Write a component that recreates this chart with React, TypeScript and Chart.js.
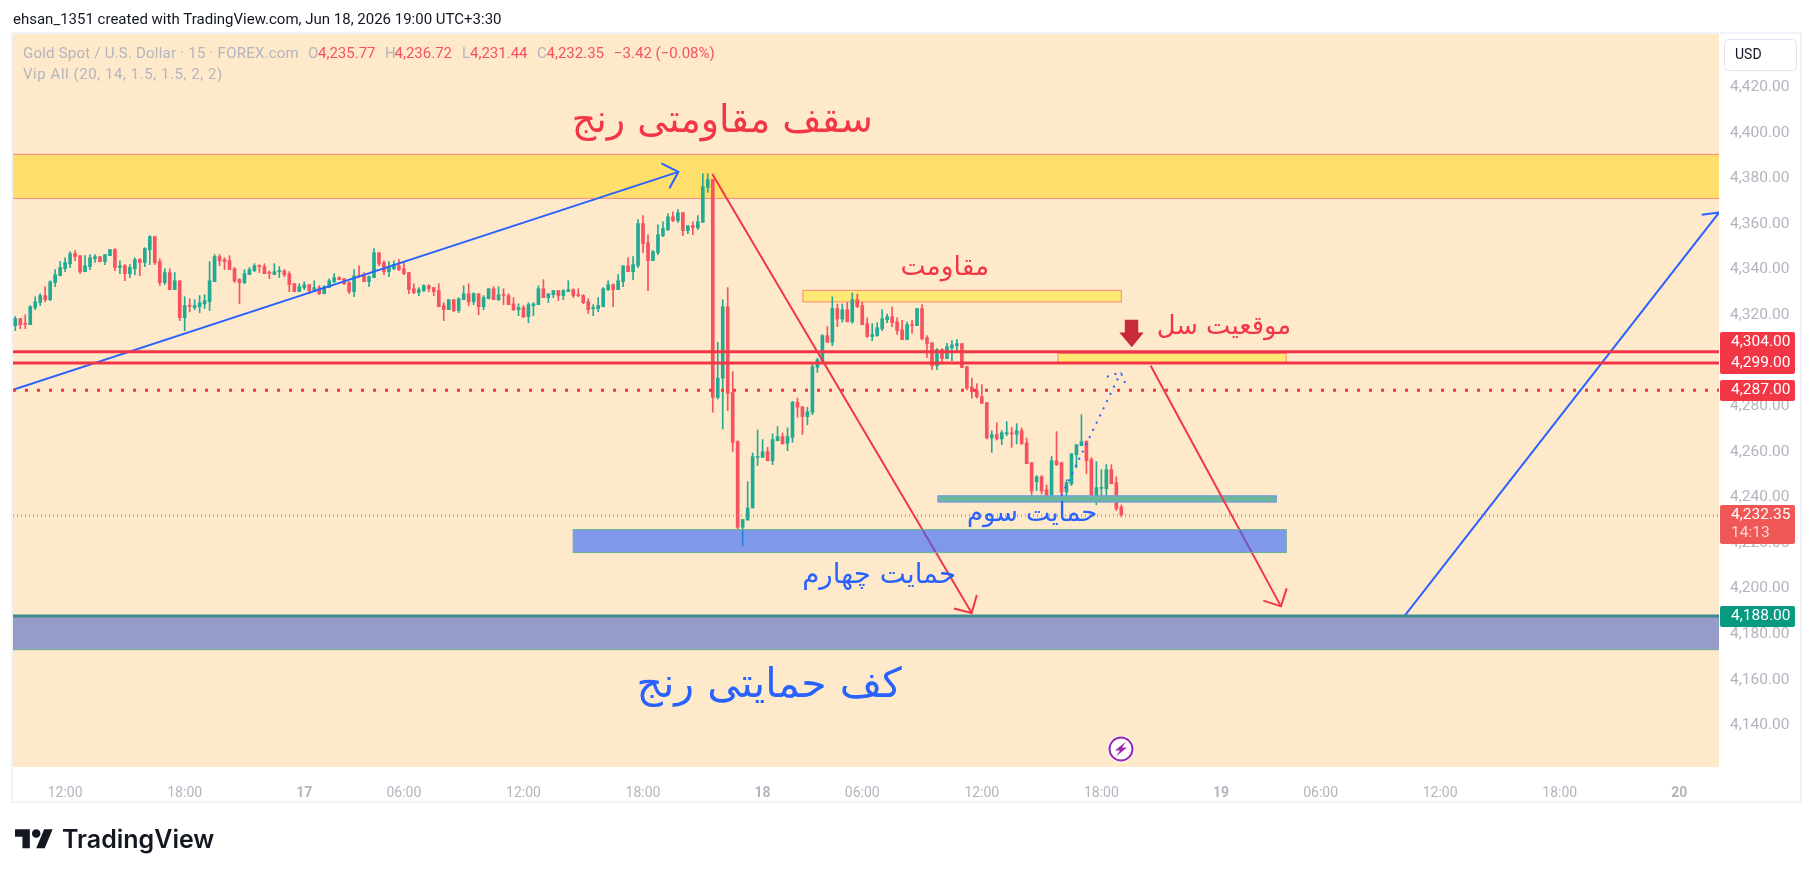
import React, { useEffect, useRef } from "react";
import { Chart, registerables } from "chart.js";

Chart.register(...registerables);

const opens = [
  4315.4,4318.5,4316.3,4315.8,4323.3,4325.5,4328.6,4326.8,4334.3,4337.3,
  4340.4,4342.6,4347.0,4346.1,4339.1,4341.3,4344.8,4345.7,4343.5,4346.1,
  4348.8,4340.9,4341.7,4338.2,4340.4,4344.4,4343.1,4348.8,4354.5,4343.5,
  4334.3,4338.7,4331.2,4335.1,4318.9,4324.2,4323.3,4323.7,4325.0,4325.9,
  4334.7,4345.7,4344.4,4343.9,4340.4,4335.6,4334.3,4337.8,4339.5,4341.7,
  4341.3,4338.7,4337.8,4339.1,4339.5,4338.2,4333.8,4330.3,4332.1,4333.4,
  4330.3,4332.1,4329.4,4332.1,4334.7,4336.5,4336.0,4334.3,4330.3,4337.3,
  4337.8,4334.7,4336.5,4347.4,4343.1,4339.1,4340.4,4341.7,4340.4,4338.7,
  4331.6,4329.9,4330.8,4332.9,4332.1,4330.8,4324.2,4322.4,4326.8,4322.0,
  4326.8,4329.4,4325.9,4329.4,4323.7,4327.2,4331.6,4326.8,4329.0,4328.6,
  4325.0,4322.4,4323.3,4319.3,4324.2,4324.6,4331.6,4327.7,4329.0,4330.8,
  4328.6,4330.3,4331.2,4329.0,4328.6,4325.9,4322.9,4322.9,4323.7,4331.2,
  4333.4,4331.2,4334.7,4341.7,4339.1,4341.7,4360.2,4351.8,4343.9,4347.4,
  4354.9,4357.5,4363.2,4361.5,4365.0,4357.1,4359.3,4358.4,4360.7,4376.1,
  4379.5,4283.9,4292.4,4323.7,4286.1,4264.5,4226.9,4230.1,4235.4,4257.6,
  4257.6,4260.1,4256.1,4264.9,4266.7,4263.8,4266.4,4281.8,4279.8,4275.5,
  4277.4,4297.1,4300.0,4311.0,4308.1,4322.9,4318.3,4322.4,4317.1,4326.8,
  4324.2,4316.3,4310.6,4311.0,4314.1,4318.0,4319.3,4317.1,4313.6,4309.3,
  4315.8,4315.4,4322.9,4310.1,4307.9,4297.8,4304.9,4300.9,4305.7,4306.6,
  4307.5,4297.4,4288.5,4286.9,4284.2,4281.6,4266.2,4267.6,4265.7,4268.0,
  4268.3,4267.7,4269.3,4264.0,4255.3,4246.9,4249.1,4243.4,4240.1,4256.1,
  4255.3,4242.4,4246.0,4258.8,4262.7,4264.5,4256.6,4240.8,4244.0,4243.8,
  4252.2,4246.5,4235.77,
];
const highs = [
  4319.4,4318.5,4320.2,4324.2,4328.1,4329.4,4332.5,4335.1,4340.0,4343.5,
  4345.2,4347.9,4348.3,4346.1,4346.1,4346.6,4346.6,4345.7,4346.6,4348.8,
  4349.2,4343.9,4342.2,4342.2,4345.2,4344.8,4349.6,4354.9,4354.5,4344.8,
  4340.4,4340.4,4338.7,4335.1,4328.1,4327.2,4326.8,4328.6,4329.0,4343.5,
  4346.6,4346.6,4345.2,4346.1,4340.9,4336.0,4340.0,4340.9,4342.6,4342.2,
  4342.6,4339.5,4342.6,4341.3,4340.0,4339.1,4333.8,4333.8,4334.7,4333.4,
  4335.1,4333.0,4333.0,4336.0,4338.2,4336.9,4336.0,4334.7,4340.0,4341.7,
  4338.7,4337.3,4349.2,4347.4,4343.9,4343.5,4343.9,4344.4,4343.5,4338.7,
  4333.8,4332.1,4333.4,4333.4,4332.1,4333.8,4325.5,4326.8,4326.8,4327.7,
  4332.9,4333.8,4329.9,4329.4,4328.6,4331.6,4332.5,4332.5,4331.6,4329.4,
  4327.7,4325.0,4324.2,4325.5,4325.5,4332.9,4335.6,4329.4,4330.8,4330.8,
  4331.2,4335.1,4331.6,4331.6,4329.0,4327.2,4324.6,4327.7,4332.1,4335.1,
  4333.8,4337.8,4341.7,4345.2,4345.7,4361.9,4363.7,4355.3,4348.3,4359.7,
  4361.0,4364.6,4365.4,4366.3,4365.0,4359.3,4361.0,4363.7,4382.1,4382.1,
  4379.5,4308.1,4326.8,4332.1,4295.2,4264.9,4230.3,4246.9,4259.5,4269.6,
  4265.4,4262.0,4267.9,4271.1,4268.3,4270.5,4282.2,4283.6,4279.8,4279.6,
  4298.6,4301.1,4311.5,4315.0,4328.1,4324.9,4324.9,4325.6,4329.7,4329.3,
  4325.6,4318.8,4316.3,4316.7,4322.4,4320.5,4323.7,4318.8,4317.7,4317.0,
  4317.7,4322.9,4324.6,4311.0,4307.9,4305.3,4305.3,4307.6,4308.8,4309.3,
  4307.5,4297.4,4292.4,4289.9,4289.5,4281.6,4269.3,4272.8,4269.3,4273.3,
  4270.8,4272.4,4270.5,4266.1,4255.3,4249.6,4249.6,4245.5,4258.0,4268.9,
  4255.3,4247.8,4259.2,4263.2,4276.3,4264.9,4257.5,4255.7,4252.2,4254.4,
  4254.4,4249.1,4236.72,
];
const lows = [
  4313.2,4314.1,4314.1,4315.8,4322.4,4324.2,4325.9,4326.4,4332.5,4337.3,
  4339.1,4340.9,4343.9,4338.2,4339.1,4340.0,4343.1,4343.5,4342.2,4346.1,
  4339.5,4338.2,4335.1,4336.5,4337.8,4337.3,4341.3,4342.2,4342.2,4333.0,
  4333.4,4331.2,4331.2,4317.6,4313.2,4321.5,4322.4,4321.1,4322.9,4322.0,
  4334.7,4341.7,4340.0,4340.0,4334.3,4325.0,4333.8,4337.8,4339.1,4338.7,
  4338.2,4336.0,4337.8,4336.5,4336.9,4330.3,4330.3,4330.3,4331.2,4329.4,
  4330.3,4329.0,4329.4,4332.1,4334.3,4335.6,4333.4,4329.4,4328.1,4336.6,
  4334.7,4332.5,4336.5,4341.7,4337.8,4336.9,4340.0,4339.5,4337.8,4329.4,
  4329.4,4328.6,4330.3,4330.3,4328.6,4323.7,4317.6,4322.4,4321.5,4321.1,
  4326.8,4324.2,4324.6,4320.2,4322.4,4327.2,4326.8,4326.4,4324.6,4324.6,
  4322.0,4319.8,4318.9,4316.7,4319.8,4324.6,4327.7,4325.5,4327.7,4326.4,
  4326.8,4330.3,4327.7,4328.1,4325.0,4320.7,4319.8,4321.5,4323.7,4330.8,
  4323.7,4331.2,4332.5,4339.1,4335.6,4340.9,4347.4,4330.8,4343.9,4346.6,
  4354.5,4357.1,4361.0,4360.6,4354.9,4355.8,4355.3,4357.5,4360.7,4373.9,
  4277.4,4283.2,4270.0,4278.1,4260.2,4226.2,4218.8,4230.1,4235.4,4254.0,
  4257.6,4256.1,4254.4,4264.9,4263.5,4260.5,4264.2,4275.2,4267.6,4271.9,
  4276.3,4294.9,4299.7,4308.1,4306.6,4315.0,4316.9,4317.1,4316.4,4323.4,
  4315.8,4310.3,4308.8,4310.7,4313.2,4316.7,4315.0,4311.5,4309.3,4309.3,
  4312.0,4315.4,4309.3,4301.5,4296.1,4296.1,4298.6,4300.9,4300.0,4303.7,
  4297.0,4287.2,4283.6,4283.6,4281.3,4265.7,4259.8,4265.2,4263.2,4267.1,
  4262.0,4263.5,4263.2,4254.8,4240.1,4243.0,4241.5,4239.8,4240.1,4254.0,
  4240.5,4240.8,4245.2,4252.9,4262.7,4250.4,4238.6,4236.8,4239.8,4239.8,
  4246.0,4234.2,4231.44,
];
const closes = [
  4318.5,4315.8,4316.0,4323.7,4325.9,4328.6,4326.8,4334.7,4337.8,4340.9,
  4343.1,4347.0,4345.7,4339.1,4341.7,4345.2,4345.7,4343.5,4346.6,4348.8,
  4340.9,4341.7,4338.2,4340.9,4344.4,4343.1,4349.2,4354.5,4343.1,4334.3,
  4338.7,4331.2,4335.1,4318.9,4324.2,4323.9,4324.2,4325.5,4326.4,4335.1,
  4345.7,4343.9,4343.5,4340.0,4335.1,4334.3,4338.2,4340.0,4341.7,4341.3,
  4338.2,4338.4,4339.1,4339.5,4337.8,4333.4,4330.3,4332.5,4333.4,4330.8,
  4332.1,4329.4,4332.5,4335.1,4336.5,4335.6,4333.8,4330.3,4337.3,4336.9,
  4334.7,4336.9,4347.4,4342.5,4339.1,4341.3,4342.2,4340.0,4338.2,4331.2,
  4329.9,4331.2,4332.9,4331.6,4330.3,4323.7,4322.4,4326.8,4322.0,4327.2,
  4329.4,4325.9,4329.4,4323.7,4327.7,4331.6,4326.8,4329.0,4328.7,4324.6,
  4322.4,4323.3,4319.3,4324.6,4325.0,4331.6,4327.7,4329.4,4330.8,4328.6,
  4330.8,4331.2,4328.6,4328.6,4325.5,4322.4,4323.3,4324.2,4331.6,4333.4,
  4331.2,4335.1,4341.7,4339.1,4342.2,4360.2,4351.4,4343.9,4347.9,4355.3,
  4358.0,4363.2,4361.5,4365.0,4357.1,4359.3,4358.4,4361.0,4376.4,4379.5,
  4283.9,4292.4,4323.7,4285.7,4264.2,4226.9,4230.3,4235.4,4257.9,4258.0,
  4260.1,4256.1,4265.4,4266.7,4263.5,4266.7,4281.8,4279.6,4275.5,4277.6,
  4297.4,4300.5,4311.0,4308.1,4322.9,4318.3,4322.4,4317.1,4326.8,4323.7,
  4315.8,4310.6,4311.5,4314.5,4318.5,4319.3,4316.7,4313.2,4309.3,4315.8,
  4315.5,4322.9,4309.6,4307.5,4297.8,4304.9,4300.9,4306.2,4306.9,4307.5,
  4297.0,4288.0,4286.4,4284.2,4281.3,4266.1,4267.6,4265.8,4268.4,4268.3,
  4267.9,4269.3,4263.6,4254.8,4242.8,4249.1,4242.8,4240.1,4256.1,4254.4,
  4242.2,4246.5,4259.2,4263.2,4264.5,4256.1,4239.3,4244.3,4244.3,4252.2,
  4246.0,4235.1,4232.35,
];

const xTickValues = [10,34,58,78,102,126,150,170,194,218,242,262,286,310,334];
const xTickLabels = ["12:00","18:00","17","06:00","12:00","18:00","18","06:00","12:00","18:00","19","06:00","12:00","18:00","20"];
const dayLabels = ["17","18","19","20"];
const yTickValues = [4140,4160,4180,4200,4220,4240,4260,4280,4300,4320,4340,4360,4380,4400,4420];

const xMin = -0.46;
const xMax = 341.97;
const yMin = 4121.7;
const yMax = 4443.4;

const levelResistanceA = 4304;
const levelResistanceB = 4299;
const levelDotted = 4287;
const lastPrice = 4232.35;
const levelFloor = 4188;

const blueUpLeg = [{x:xMin,y:4287.2},{x:133.1,y:4382.9}];
const blueUpHead = [{x:129.7,y:4386.6},{x:133.1,y:4382.9},{x:131.3,y:4375.7}];
const redDownA = [{x:139.9,y:4382.0},{x:191.97,y:4189.3}];
const redDownAHead = [{x:188.4,y:4191.3},{x:191.97,y:4189.3},{x:193.0,y:4197.2}];
const redDownB = [{x:227.9,y:4297.8},{x:254.05,y:4192.2}];
const redDownBHead = [{x:250.5,y:4194.7},{x:254.05,y:4192.2},{x:255.2,y:4200.1}];
const blueRise = [{x:278.9,y:4188.1},{x:342,y:4365.1}];
const blueRiseHead = [{x:338.5,y:4364.1},{x:342,y:4365.1}];
const projection = [{x:210.0,y:4240.8},{x:221.9,y:4294.9}];
const projectionHead = [{x:219.1,y:4293.0},{x:221.9,y:4294.9},{x:223.1,y:4288.3}];
const sellMarker = [
  {x:222.7,y:4318},{x:225.4,y:4318},{x:225.4,y:4312.4},{x:226.5,y:4312.4},
  {x:224.1,y:4305.9},{x:221.6,y:4312.4},{x:222.7,y:4312.4},
];

const zoneTop = { x1:xMin-1, x2:xMax+1, top:4390.8, bottom:4371.0 };
const zoneFloor = { x1:xMin-1, x2:xMax+1, top:4188, bottom:4173.0 };
const zoneResist = { x1:158.0, x2:222.1, top:4331.1, bottom:4325.6 };
const zoneSell = { x1:209.2, x2:255.2, top:4303.4, bottom:4298.9 };
const zoneSupport4 = { x1:111.9, x2:255.2, top:4226.1, bottom:4215.6 };
const zoneSupport3 = { x1:185.1, x2:253.2, top:4240.9, bottom:4237.8 };

const notes = [
  { text:"سقف مقاومتی رنج", x:141.9, y:4404.9, size:38, color:"#f23645" },
  { text:"کف حمایتی رنج", x:151.3, y:4157.3, size:41, color:"#2962ff" },
  { text:"مقاومت", x:186.6, y:4340.8, size:26.5, color:"#f23645" },
  { text:"موقعیت سل", x:242.6, y:4314.5, size:25.8, color:"#f23645" },
  { text:"حمایت سوم", x:204.1, y:4232.4, size:25.8, color:"#2962ff" },
  { text:"حمایت چهارم", x:173.4, y:4205.6, size:27.7, color:"#2962ff" },
];

const bull = "#22ab94";
const bear = "#f7525f";
const UI = "Roboto, sans-serif";
const AR = "'DejaVu Sans', sans-serif";

const line = (data: any[], color: string, width: number, dash: number[] = [], order = 3) => ({
  type: "line" as const, data, borderColor: color, borderWidth: width, borderDash: dash,
  pointRadius: 0, tension: 0, fill: false, order, borderCapStyle: "butt" as const,
});

function drawZone(chart: any, z: any, fill: string, stroke: string) {
  const { x, y } = chart.scales; const ctx = chart.ctx;
  const l = x.getPixelForValue(z.x1), r = x.getPixelForValue(z.x2);
  const t = y.getPixelForValue(z.top), b = y.getPixelForValue(z.bottom);
  ctx.save();
  ctx.beginPath(); ctx.rect(chart.chartArea.left, chart.chartArea.top, chart.chartArea.width, chart.chartArea.height); ctx.clip();
  ctx.fillStyle = fill; ctx.fillRect(l, t, r - l, b - t);
  ctx.strokeStyle = stroke; ctx.lineWidth = 1; ctx.strokeRect(l + .5, t + .5, r - l - 1, b - t - 1);
  ctx.restore();
}

const overlay = {
  id: "overlay",
  beforeDraw(chart: any) {
    const ctx = chart.ctx; const a = chart.chartArea;
    ctx.save();
    ctx.fillStyle = "#ffffff"; ctx.fillRect(0, 0, chart.width, chart.height);
    ctx.fillStyle = "#ffe9cb"; ctx.fillRect(a.left, a.top, a.width, a.height);
    ctx.strokeStyle = "#f0f3fa"; ctx.lineWidth = 2;
    ctx.strokeRect(12, 33, 1789, 769);
    ctx.restore();
  },
  beforeDatasetsDraw(chart: any) {
    drawZone(chart, zoneTop, "#ffdf6b", "#f98a80");
    drawZone(chart, zoneResist, "#ffe873", "#f98a80");
    drawZone(chart, zoneSell, "#ffe873", "#f98a80");
    drawZone(chart, zoneFloor, "#969cca", "#7fb48f");
  },
  afterDatasetDraw(chart: any, args: any) {
    if (args.index === 1) drawZone(chart, zoneSupport3, "#6ab89c", "#7a96ec");
  },
  afterDatasetsDraw(chart: any) {
    const ctx = chart.ctx; const { x, y } = chart.scales;
    drawZone(chart, zoneSupport4, "rgba(41,98,255,0.6)", "#6fb98c");

    ctx.save();
    ctx.fillStyle = "#c92a3a"; ctx.beginPath();
    sellMarker.forEach((p, i) => {
      const px = x.getPixelForValue(p.x), py = y.getPixelForValue(p.y);
      i ? ctx.lineTo(px, py) : ctx.moveTo(px, py);
    });
    ctx.closePath(); ctx.fill();

    ctx.textAlign = "center"; ctx.textBaseline = "middle"; ctx.direction = "rtl";
    notes.forEach(n => {
      ctx.font = `${n.size}px ${AR}`; ctx.fillStyle = n.color;
      ctx.fillText(n.text, x.getPixelForValue(n.x), y.getPixelForValue(n.y));
    });
    ctx.direction = "ltr";

    ctx.beginPath(); ctx.arc(1121, 749, 13.5, 0, 7); ctx.fillStyle = "#fff"; ctx.fill();
    ctx.beginPath(); ctx.arc(1121, 749, 11.5, 0, 7); ctx.strokeStyle = "#9c27b0"; ctx.lineWidth = 2; ctx.stroke();
    ctx.fillStyle = "#9c27b0"; ctx.beginPath();
    ctx.moveTo(1126, 741.5); ctx.lineTo(1115, 750.5); ctx.lineTo(1120, 750.5); ctx.lineTo(1116, 756.5);
    ctx.lineTo(1127, 747.5); ctx.lineTo(1122, 747.5); ctx.closePath(); ctx.fill();

    const tag = (top: number, bottom: number, color: string) => {
      ctx.fillStyle = color; ctx.beginPath(); ctx.roundRect(1720, top, 75, bottom - top, 2); ctx.fill();
    };
    const tagText = (s: string, py: number, color = "#fff") => {
      ctx.font = `15.5px ${UI}`; ctx.fillStyle = color; ctx.textAlign = "left"; ctx.textBaseline = "middle";
      ctx.fillText(s, 1731, py);
    };
    tag(332, 374, "#f23645");
    tagText("4,304.00", 342); tagText("4,299.00", 363);
    tag(380, 401, "#f23645"); tagText("4,287.00", 390.5);
    tag(505, 544, "#f05858"); tagText("4,232.35", 515); tagText("14:13", 533, "rgba(255,255,255,.75)");
    tag(606, 627, "#089981"); tagText("4,188.00", 616.5);

    ctx.fillStyle = "#fff"; ctx.strokeStyle = "#e0e3eb"; ctx.lineWidth = 1;
    ctx.beginPath(); ctx.roundRect(1724.5, 39.5, 72, 31, 4); ctx.fill(); ctx.stroke();
    ctx.fillStyle = "#131722"; ctx.font = `14px ${UI}`; ctx.fillText("USD", 1735, 55);

    ctx.fillStyle = "#131722"; ctx.font = `15px ${UI}`;
    ctx.fillText("ehsan_1351 created with TradingView.com, Jun 18, 2026 19:00 UTC+3:30", 13, 20);

    const gray = "#b2b5be", red = "#f7525f";
    const row: [string, number, string, string][] = [
      ["Gold Spot / U.S. Dollar · 15 · FOREX.com", 23, gray, "0.22px"],
      ["O", 308, gray, "0px"], ["4,235.77", 318, red, "0px"],
      ["H", 385, gray, "0px"], ["4,236.72", 394.5, red, "0px"],
      ["L", 462, gray, "0px"], ["4,231.44", 470, red, "0px"],
      ["C", 537, gray, "0px"], ["4,232.35", 546.5, red, "0px"],
      ["−3.42 (−0.08%)", 614, red, "0px"],
    ];
    ctx.font = `15px ${UI}`;
    row.forEach(([s, px, c, sp]) => { (ctx as any).letterSpacing = sp; ctx.fillStyle = c; ctx.fillText(s, px, 54); });
    (ctx as any).letterSpacing = "0.55px";
    ctx.fillStyle = gray; ctx.fillText("Vip All (20, 14, 1.5, 1.5, 2, 2)", 23, 75);
    (ctx as any).letterSpacing = "0px";

    ctx.fillStyle = "#131722";
    ctx.translate(15, 825); ctx.scale(1.06, 1.06);
    ctx.fill(new Path2D("M14 22H7V11H0V4h14v18zM28 22h-8l7.5-18h8L28 22z"));
    ctx.beginPath(); ctx.arc(20, 8, 4, 0, 7); ctx.fill();
    ctx.setTransform(1, 0, 0, 1, 0, 0);
    ctx.font = `600 25px Inter, ${UI}`; ctx.fillText("TradingView", 62, 840);
    ctx.restore();
  },
};

export default function App() {
  const ref = useRef<HTMLCanvasElement>(null);
  useEffect(() => {
    document.body.style.margin = "0";
    const idx = opens.map((_, i) => i);
    const chart = new Chart(ref.current!, {
      type: "bar",
      data: {
        datasets: [
          {
            data: idx.map(i => ({ x: i, y: [lows[i], highs[i]] })) as any,
            backgroundColor: idx.map(i => closes[i] >= opens[i] ? bull : bear),
            barThickness: 1, grouped: false, order: 10,
          },
          {
            data: idx.map(i => ({ x: i, y: [opens[i], closes[i]] })) as any,
            backgroundColor: idx.map(i => closes[i] >= opens[i] ? bull : bear),
            barThickness: 3, grouped: false, order: 9, minBarLength: 1,
          },
          line([{x:xMin,y:levelFloor},{x:xMax,y:levelFloor}], "#3f8a8f", 3),
          line([{x:xMin,y:levelResistanceA},{x:xMax,y:levelResistanceA}], "#f23645", 3),
          line([{x:xMin,y:levelResistanceB},{x:xMax,y:levelResistanceB}], "#f23645", 3),
          line([{x:xMin,y:levelDotted},{x:xMax,y:levelDotted}], "#f23645", 3, [3, 9]),
          line([{x:xMin,y:lastPrice-0.6},{x:xMax,y:lastPrice-0.6}], "#7f9bb5", 1, [1, 3]),
          line([{x:xMin,y:lastPrice},{x:xMax,y:lastPrice}], "#f7525f", 1, [1, 3]),
          line(blueUpLeg, "#2962ff", 2), line(blueUpHead, "#2962ff", 2),
          line(redDownA, "#f23645", 2), line(redDownAHead, "#f23645", 2),
          line(redDownB, "#f23645", 2), line(redDownBHead, "#f23645", 2),
          line(blueRise, "#2962ff", 2), line(blueRiseHead, "#2962ff", 2),
          line(projection, "#2962ff", 2, [2, 6], 2), line(projectionHead, "#2962ff", 2, [2, 6], 2),
        ] as any,
      },
      options: {
        animation: false, responsive: false, devicePixelRatio: 1,
        layout: { padding: { left: 13, top: 34, right: 13, bottom: 76 } },
        plugins: { legend: { display: false }, tooltip: { enabled: false } },
        scales: {
          x: {
            type: "linear", min: xMin, max: xMax, offset: false,
            grid: { display: false }, border: { display: false },
            afterBuildTicks: (a: any) => { a.ticks = xTickValues.map(value => ({ value })); },
            afterFit: (a: any) => { a.height = 34; },
            ticks: {
              autoSkip: false, maxRotation: 0, padding: 10,
              color: "#b2b5be",
              callback: (v: any) => xTickLabels[xTickValues.indexOf(v)],
              font: (c: any) => ({
                family: UI, size: 14,
                weight: dayLabels.includes(xTickLabels[xTickValues.indexOf(c.tick?.value)]) ? "bold" : "normal",
              }),
            },
          },
          y: {
            type: "linear", position: "right", min: yMin, max: yMax,
            grid: { display: false }, border: { display: false },
            afterBuildTicks: (a: any) => { a.ticks = yTickValues.map(value => ({ value })); },
            afterFit: (a: any) => { a.width = 82; },
            ticks: {
              autoSkip: false, padding: 3, color: "#b2b5be", font: { family: UI, size: 15.5 },
              callback: (v: any) => Number(v).toLocaleString("en-US", { minimumFractionDigits: 2, maximumFractionDigits: 2 }),
            },
          },
        },
      } as any,
      plugins: [overlay],
    });
    return () => chart.destroy();
  }, []);
  return <canvas ref={ref} width={1814} height={877} style={{ display: "block" }} />;
}
